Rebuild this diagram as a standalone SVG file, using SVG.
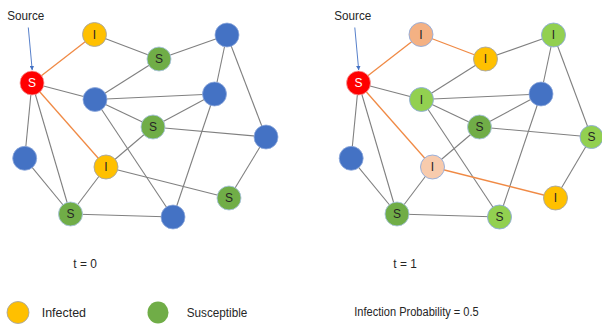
<svg xmlns="http://www.w3.org/2000/svg" width="602" height="324" viewBox="0 0 602 324">
<defs>
<marker id="ah" viewBox="0 0 6 6" refX="5.5" refY="3" markerWidth="5" markerHeight="5" orient="auto"><path d="M0,0 L6,3 L0,6 z" fill="#4472C4"/></marker>
<style>
.e{stroke:#808080;stroke-width:1.1;fill:none}
.o{stroke:#F08A45;stroke-width:1.3;fill:none}
.red{fill:#FF0000;stroke:#F2A0A0;stroke-width:0.8}
.yel{fill:#FFC000;stroke:#A6A6A6;stroke-width:0.9}
.grn{fill:#70AD47;stroke:#A9C4DF;stroke-width:0.9}
.lg{fill:#92D050;stroke:#8FAADC;stroke-width:0.9}
.blu{fill:#4472C4;stroke:#8FAADC;stroke-width:0.8}
.pch{fill:#F4B183;stroke:#8FAADC;stroke-width:0.9}
.lpc{fill:#F8CBAD;stroke:#8FAADC;stroke-width:0.9}
.t{font-family:"Liberation Sans",Arial,sans-serif;font-size:12px;fill:#262626;text-anchor:middle}
.tw{font-family:"Liberation Sans",Arial,sans-serif;font-size:12px;fill:#FFFFFF;text-anchor:middle}
.lab{font-family:"Liberation Sans",Arial,sans-serif;font-size:12px;fill:#262626}
</style>
</defs>
<rect width="602" height="324" fill="#FFFFFF"/>
<g id="connectors">
<line class="o" x1="32" y1="83" x2="94.5" y2="34.5"/>
<line class="e" x1="32" y1="83" x2="95" y2="99.5"/>
<line class="o" x1="32" y1="83" x2="106" y2="167"/>
<line class="e" x1="32" y1="83" x2="70.5" y2="214"/>
<line class="e" x1="32" y1="83" x2="24.7" y2="158.3"/>
<line class="e" x1="94.5" y1="34.5" x2="159" y2="59"/>
<line class="e" x1="159" y1="59" x2="227" y2="35"/>
<line class="e" x1="159" y1="59" x2="95" y2="99.5"/>
<line class="e" x1="95" y1="99.5" x2="214.5" y2="94"/>
<line class="e" x1="95" y1="99.5" x2="153" y2="127"/>
<line class="e" x1="95" y1="99.5" x2="173" y2="217"/>
<line class="e" x1="227" y1="35" x2="214.5" y2="94"/>
<line class="e" x1="227" y1="35" x2="266" y2="137"/>
<line class="e" x1="214.5" y1="94" x2="153" y2="127"/>
<line class="e" x1="214.5" y1="94" x2="173" y2="217"/>
<line class="e" x1="153" y1="127" x2="266" y2="137"/>
<line class="e" x1="153" y1="127" x2="106" y2="167"/>
<line class="e" x1="106" y1="167" x2="70.5" y2="214"/>
<line class="e" x1="106" y1="167" x2="229" y2="198"/>
<line class="e" x1="229" y1="198" x2="266" y2="137"/>
<line class="e" x1="24.7" y1="158.3" x2="70.5" y2="214"/>
<line class="e" x1="70.5" y1="214" x2="173" y2="217"/>
<line x1="28.3" y1="27.5" x2="32.2" y2="70" stroke="#4472C4" stroke-width="0.9" marker-end="url(#ah)"/>
<line class="o" x1="358.5" y1="83" x2="421" y2="34.5"/>
<line class="e" x1="358.5" y1="83" x2="421.5" y2="99.5"/>
<line class="o" x1="358.5" y1="83" x2="432.5" y2="167"/>
<line class="e" x1="358.5" y1="83" x2="397" y2="214"/>
<line class="e" x1="358.5" y1="83" x2="351.2" y2="158.3"/>
<line class="o" x1="421" y1="34.5" x2="485.5" y2="59"/>
<line class="e" x1="485.5" y1="59" x2="553.5" y2="35"/>
<line class="e" x1="485.5" y1="59" x2="421.5" y2="99.5"/>
<line class="e" x1="421.5" y1="99.5" x2="541" y2="94"/>
<line class="e" x1="421.5" y1="99.5" x2="479.5" y2="127"/>
<line class="e" x1="421.5" y1="99.5" x2="499.5" y2="217"/>
<line class="e" x1="553.5" y1="35" x2="541" y2="94"/>
<line class="e" x1="553.5" y1="35" x2="591.5" y2="137"/>
<line class="e" x1="541" y1="94" x2="479.5" y2="127"/>
<line class="e" x1="541" y1="94" x2="499.5" y2="217"/>
<line class="e" x1="479.5" y1="127" x2="591.5" y2="137"/>
<line class="e" x1="479.5" y1="127" x2="432.5" y2="167"/>
<line class="e" x1="432.5" y1="167" x2="397" y2="214"/>
<line class="o" x1="432.5" y1="167" x2="555.5" y2="198"/>
<line class="e" x1="555.5" y1="198" x2="591.5" y2="137"/>
<line class="e" x1="351.2" y1="158.3" x2="397" y2="214"/>
<line class="e" x1="397" y1="214" x2="499.5" y2="217"/>
<line x1="354.8" y1="27.5" x2="358.7" y2="70" stroke="#4472C4" stroke-width="0.9" marker-end="url(#ah)"/>
</g>
<g id="L_src"><circle class="red" cx="32" cy="83" r="12"/><text class="tw" x="32" y="87.3">S</text></g>
<g id="L_itop"><circle class="yel" cx="94.5" cy="34.5" r="12"/><text class="t" x="94.5" y="38.8">I</text></g>
<g id="L_stop"><circle class="grn" cx="159" cy="59" r="12"/><text class="t" x="159" y="63.3">S</text></g>
<g id="L_btr"><circle class="blu" cx="227" cy="35" r="12"/></g>
<g id="L_bmid"><circle class="blu" cx="95" cy="99.5" r="12"/></g>
<g id="L_brm"><circle class="blu" cx="214.5" cy="94" r="12"/></g>
<g id="L_smid"><circle class="grn" cx="153" cy="127" r="12"/><text class="t" x="153" y="131.3">S</text></g>
<g id="L_bright"><circle class="blu" cx="266" cy="137" r="12"/></g>
<g id="L_bleft"><circle class="blu" cx="24.7" cy="158.3" r="12"/></g>
<g id="L_imid"><circle class="yel" cx="106" cy="167" r="12"/><text class="t" x="106" y="171.3">I</text></g>
<g id="L_srb"><circle class="grn" cx="229" cy="198" r="12"/><text class="t" x="229" y="202.3">S</text></g>
<g id="L_sbl"><circle class="grn" cx="70.5" cy="214" r="12"/><text class="t" x="70.5" y="218.3">S</text></g>
<g id="L_bbot"><circle class="blu" cx="173" cy="217" r="12"/></g>
<g id="R_src"><circle class="red" cx="358.5" cy="83" r="12"/><text class="tw" x="358.5" y="87.3">S</text></g>
<g id="R_itop"><circle class="pch" cx="421" cy="34.5" r="12"/><text class="t" x="421" y="38.8">I</text></g>
<g id="R_stop"><circle class="yel" cx="485.5" cy="59" r="12"/><text class="t" x="485.5" y="63.3">I</text></g>
<g id="R_btr"><circle class="lg" cx="553.5" cy="35" r="12"/><text class="t" x="553.5" y="39.3">I</text></g>
<g id="R_bmid"><circle class="lg" cx="421.5" cy="99.5" r="12"/><text class="t" x="421.5" y="103.8">I</text></g>
<g id="R_brm"><circle class="blu" cx="541" cy="94" r="12"/></g>
<g id="R_smid"><circle class="grn" cx="479.5" cy="127" r="12"/><text class="t" x="479.5" y="131.3">S</text></g>
<g id="R_bright"><circle class="lg" cx="591.5" cy="137" r="11.5"/><text class="t" x="591.5" y="141.3">S</text></g>
<g id="R_bleft"><circle class="blu" cx="351.2" cy="158.3" r="12"/></g>
<g id="R_imid"><circle class="lpc" cx="432.5" cy="167" r="12"/><text class="t" x="432.5" y="171.3">I</text></g>
<g id="R_srb"><circle class="yel" cx="555.5" cy="198" r="12"/><text class="t" x="555.5" y="202.3">I</text></g>
<g id="R_sbl"><circle class="grn" cx="397" cy="214" r="12"/><text class="t" x="397" y="218.3">S</text></g>
<g id="R_bbot"><circle class="lg" cx="499.5" cy="217" r="12"/><text class="t" x="499.5" y="221.3">S</text></g>
<g id="labels">
<text class="lab" x="7.3" y="20" textLength="37" lengthAdjust="spacingAndGlyphs">Source</text>
<text class="lab" x="334.3" y="20" textLength="37" lengthAdjust="spacingAndGlyphs">Source</text>
<text class="lab" x="73.3" y="268" textLength="23.5" lengthAdjust="spacingAndGlyphs">t = 0</text>
<text class="lab" x="393.3" y="268" textLength="23.5" lengthAdjust="spacingAndGlyphs">t = 1</text>
</g>
<g id="legend">
<ellipse cx="18" cy="312.5" rx="11" ry="11" fill="#FFC000" stroke="#A6A6A6" stroke-width="0.9"/>
<text class="lab" x="41.7" y="316.5" font-size="13" textLength="44.3" lengthAdjust="spacingAndGlyphs">Infected</text>
<ellipse cx="158" cy="312.5" rx="10.5" ry="11" fill="#70AD47"/>
<text class="lab" x="186.7" y="316.5" font-size="13" textLength="60.6" lengthAdjust="spacingAndGlyphs">Susceptible</text>
<text class="lab" x="354.3" y="316" font-size="11" textLength="124.4" lengthAdjust="spacingAndGlyphs">Infection Probability = 0.5</text>
</g>
</svg>
